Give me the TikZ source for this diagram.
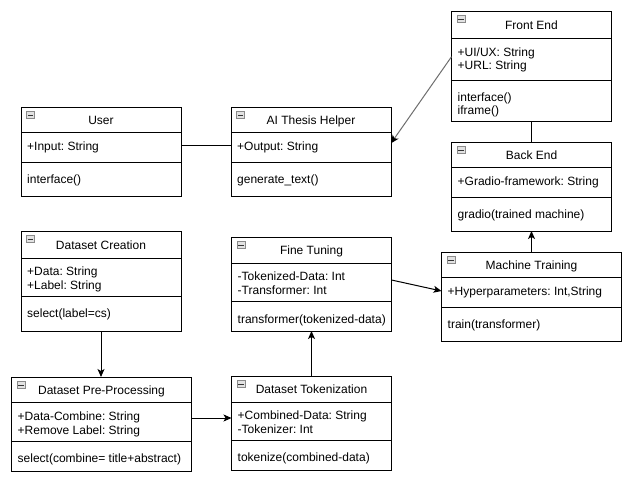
\documentclass[tikz,border=0pt]{standalone}
\usepackage{fontspec}
\setmainfont{Liberation Sans}
\usetikzlibrary{arrows.meta}
\frenchspacing
\definecolor{icofill}{HTML}{E2E2E2}
\definecolor{icodraw}{HTML}{8A8A8A}
\definecolor{grayline}{HTML}{6E6E6E}
\tikzset{
  clsbox/.style={draw=black, line width=1pt, fill=white, inner sep=0pt, outer sep=0pt, rectangle},
  clsline/.style={draw=black, line width=1pt},
  icon/.style={draw=icodraw, fill=icofill, line width=0.8pt, minimum width=8pt, minimum height=7pt, inner sep=0pt,
    path picture={\draw[line width=1pt, black!80] ([xshift=-2.6pt]path picture bounding box.center) -- ([xshift=2.6pt]path picture bounding box.center);}},
  ttl/.style={font=\fontsize{12}{14}\selectfont, inner sep=0pt, anchor=base},
  txt/.style={font=\fontsize{12}{14}\selectfont, inner sep=0pt, anchor=base west},
  conn/.style={draw=black, line width=1pt},
  arr/.style={draw=black, line width=1pt, -{Stealth[length=8pt, width=7pt, inset=2pt, color=black]}},
}
\newcommand{\umlcls}[8]{%
  \node[clsbox, minimum width={(#4-#2)*1pt}, minimum height={(#5-#3)*1pt}, anchor=north west] (#1) at (#2,#3) {};
  \draw[clsline] (#2,#6) -- (#4,#6);
  \draw[clsline] (#2,#7) -- (#4,#7);
  \node[icon] (#1-icon) at (#2+9.5,#3+8) {};
  \node[ttl] (#1-title) at ({(#2+#4)/2},{(#3+#6)/2+4.8}) {#8};
}
\begin{document}
\begin{tikzpicture}[x=1pt,y=-1pt]
\useasboundingbox[fill=white] (0,0) rectangle (636,480);

% class boxes
\umlcls{user}{21}{107}{181}{196}{132}{162}{User}
\node[txt] (user-a1) at (27,150) {+Input: String};
\node[txt] (user-m1) at (27,183) {interface()};

\umlcls{ai}{231}{107}{391}{196}{132}{162}{AI Thesis Helper}
\node[txt] (ai-a1) at (237,150) {+Output: String};
\node[txt] (ai-m1) at (237,183) {generate\_text()};

\umlcls{fe}{451.5}{11}{611.5}{121}{38}{80}{Front End}
\node[txt] (fe-a1) at (457.5,56) {+UI/UX: String};
\node[txt] (fe-a2) at (457.5,69.5) {+URL: String};
\node[txt] (fe-m1) at (457.5,101) {interface()};
\node[txt] (fe-m2) at (457.5,114.5) {iframe()};

\umlcls{be}{451.5}{142}{611.5}{231}{167}{197}{Back End}
\node[txt] (be-a1) at (457.5,185) {+Gradio-framework: String};
\node[txt] (be-m1) at (457.5,218) {gradio(trained machine)};

\umlcls{dc}{21}{231}{181}{331}{258}{296}{Dataset Creation}
\node[txt] (dc-a1) at (27,275.5) {+Data: String};
\node[txt] (dc-a2) at (27,289.5) {+Label: String};
\node[txt] (dc-m1) at (27,317) {select(label=cs)};

\umlcls{dpp}{11.5}{377}{191.5}{471}{402}{441}{Dataset Pre-Processing}
\node[txt] (dpp-a1) at (17.5,420) {+Data-Combine: String};
\node[txt] (dpp-a2) at (17.5,434) {+Remove Label: String};
\node[txt] (dpp-m1) at (17.5,462) {select(combine= title+abstract)};

\umlcls{ft}{231.5}{237}{391.5}{331}{263}{301}{Fine Tuning}
\node[txt] (ft-a1) at (237.5,280.5) {-Tokenized-Data: Int};
\node[txt] (ft-a2) at (237.5,294.5) {-Transformer: Int};
\node[txt] (ft-m1) at (237.5,323) {transformer(tokenized-data)};

\umlcls{mt}{441.5}{252}{621.5}{341}{277}{307}{Machine Training}
\node[txt] (mt-a1) at (447.5,295) {+Hyperparameters: Int,String};
\node[txt] (mt-m1) at (447.5,328) {train(transformer)};

\umlcls{dt}{231.5}{376}{391.5}{470}{402}{440}{Dataset Tokenization}
\node[txt] (dt-a1) at (237.5,419.5) {+Combined-Data: String};
\node[txt] (dt-a2) at (237.5,433.5) {-Tokenizer: Int};
\node[txt] (dt-m1) at (237.5,461.5) {tokenize(combined-data)};

% connectors
\draw[conn] ([yshift=6.2pt]user.east) -- ([yshift=6.2pt]ai.west);
\draw[arr, draw=grayline] ([yshift=9.3pt]fe.west) -- ([yshift=8.2pt]ai.east);
\draw[conn] (fe.south) -- (be.north);
\draw[arr] (mt.north) -- (be.south);
\draw[arr] ([yshift=4pt]ft.east) -- ([yshift=5.5pt]mt.west);
\draw[arr] (dt.north) -- (ft.south);
\draw[arr] ([yshift=6pt]dpp.east) -- ([yshift=5pt]dt.west);
\draw[arr] (dc.south) -- (dc.south |- dpp.north);
\end{tikzpicture}
\end{document}
